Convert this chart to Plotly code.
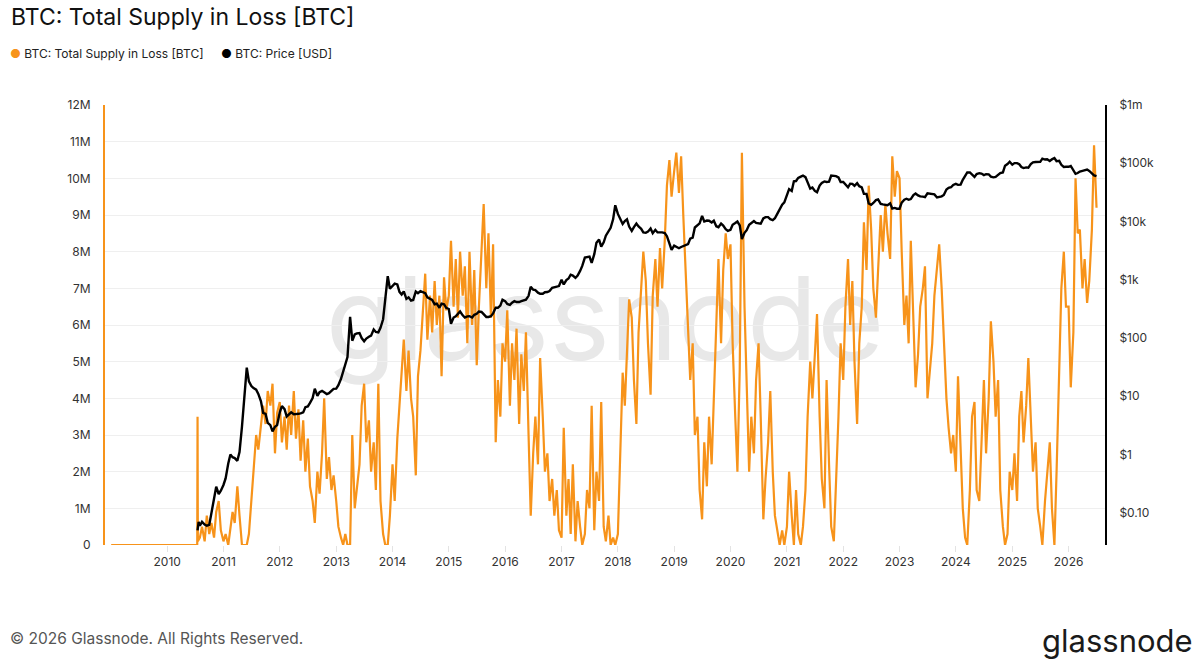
import pandas as pd
import plotly.graph_objects as go

ORANGE = "#f7931a"
FONT = "Inter"

# supply in loss, millions of BTC, semi-monthly (1st / 15th) from 2010-08-01
loss_start = "2010-08-01"
supply_loss_m = [
    0.2, 0.5, 0.1, 0.8, 0.3, 0.6, 0.2, 0.9, 1.2, 0.4,  # 2010 Aug-Dec
    0.1, 0.3, 0.0, 0.5, 0.9, 0.6, 1.6, 0.8, 0.0, 0.0, 0.0, 0.3, 1.2, 2.2, 3.0, 2.6, 3.2, 3.8, 3.3, 4.2, 3.8, 4.4, 2.5, 3.6,  # 2011
    3.9, 2.8, 3.5, 2.6, 3.8, 3.0, 4.2, 2.9, 3.7, 2.3, 3.4, 2.0, 2.9, 1.6, 1.2, 0.6, 2.0, 1.4, 2.5, 4.0, 1.8, 2.4, 1.5, 1.9,  # 2012
    1.2, 0.5, 0.2, 0.0, 0.3, 0.0, 0.0, 3.0, 1.0, 1.6, 2.2, 3.8, 4.4, 2.8, 3.4, 2.0, 2.8, 1.5, 4.4, 1.2, 0.3, 0.0, 0.0, 0.8,  # 2013
    2.2, 1.2, 2.9, 3.8, 4.6, 5.6, 4.2, 5.3, 4.0, 3.5, 1.9, 4.6, 5.3, 6.2, 7.4, 5.6, 6.8, 5.8, 7.2, 6.0, 6.8, 4.6, 7.3, 6.4,  # 2014
    6.8, 8.3, 6.5, 7.8, 6.2, 8.0, 6.8, 7.6, 5.5, 8.0, 6.0, 7.5, 4.9, 6.5, 8.0, 9.3, 7.0, 8.5, 6.2, 8.2, 2.8, 4.5, 3.5, 5.5,  # 2015
    5.0, 6.4, 3.8, 5.5, 4.5, 5.9, 3.3, 5.2, 4.2, 5.8, 3.0, 0.8, 2.5, 3.5, 2.2, 5.1, 3.5, 2.0, 2.5, 1.2, 1.8, 0.8, 1.5, 0.4,  # 2016
    0.2, 3.2, 0.8, 1.8, 0.3, 2.2, 0.1, 1.2, 0.5, 0.0, 0.3, 1.5, 1.0, 3.8, 0.4, 2.0, 1.2, 3.9, 0.5, 0.1, 0.8, 0.0, 0.2, 0.0,  # 2017
    0.3, 2.5, 4.7, 3.8, 5.5, 6.7, 6.2, 4.5, 3.3, 5.8, 7.0, 8.0, 7.2, 5.5, 4.1, 6.8, 7.8, 6.5, 8.1, 7.0, 8.3, 9.8, 10.5, 9.5,  # 2018
    10.2, 10.7, 9.6, 10.6, 9.0, 7.5, 5.8, 4.5, 5.5, 3.0, 3.5, 1.5, 0.7, 2.8, 1.6, 3.5, 2.2, 4.0, 6.5, 7.8, 5.5, 7.5, 8.5, 7.8,  # 2019
    8.2, 5.5, 3.5, 2.0, 4.8, 10.7, 6.5, 4.5, 2.0, 3.5, 2.5, 4.5, 5.5, 3.5, 0.7, 1.8, 2.8, 4.2, 2.0, 0.8, 0.3, 0.0, 0.4, 0.0,  # 2020
    0.5, 2.0, 0.8, 0.0, 1.5, 0.3, 0.0, 0.5, 1.5, 3.5, 5.0, 4.0, 5.2, 6.3, 3.5, 1.8, 1.0, 4.5, 2.2, 0.5, 0.1, 1.5, 3.5, 5.5,  # 2021
    4.5, 6.5, 7.8, 6.0, 7.2, 5.0, 3.3, 5.5, 6.5, 8.8, 7.5, 9.8, 8.6, 7.0, 6.2, 7.5, 9.0, 8.0, 9.3, 8.5, 7.8, 10.6, 9.5, 10.2,  # 2022
    10.0, 8.0, 6.0, 6.8, 5.5, 8.3, 6.2, 4.3, 5.2, 6.5, 7.0, 7.6, 4.0, 4.8, 5.5, 6.8, 7.5, 8.2, 7.0, 5.5, 4.0, 3.2, 2.5, 3.0,  # 2023
    2.0, 4.6, 2.5, 1.0, 0.2, 0.0, 1.5, 3.5, 3.9, 1.5, 1.2, 3.0, 4.5, 2.5, 4.0, 6.1, 5.0, 3.5, 4.5, 1.5, 0.5, 0.0, 0.3, 2.0,  # 2024
    1.5, 2.5, 1.2, 3.5, 4.2, 2.8, 3.8, 5.1, 3.5, 2.0, 2.8, 1.0, 0.5, 0.0, 1.2, 2.0, 2.8, 1.0, 0.0, 2.0, 4.7, 7.0, 8.0, 6.5,  # 2025
    6.5, 4.3, 5.8, 10.0, 8.5, 8.6, 7.0, 7.8, 6.6, 7.2, 8.6, 10.9, 9.2,  # 2026
]
loss_early_dates = ["2009-01-03", "2010-07-15", "2010-07-17", "2010-07-19"]
loss_early_m = [0.0, 0.0, 3.5, 0.1]

# BTC price, USD, same semi-monthly grid
price_start = "2010-08-01"
price_usd = [
    0.06, 0.07, 0.063, 0.06, 0.062, 0.10, 0.20, 0.28, 0.21, 0.24,
    0.30, 0.39, 0.70, 1.0, 0.90, 0.87, 0.78, 1.1, 3.0, 7.5, 31, 18, 15, 13.8, 13, 11, 8.2, 5.2, 5.0, 3.5, 3.2, 2.5, 3.0, 3.2,
    5.3, 6.8, 6.0, 4.5, 4.9, 5.3, 4.9, 4.9, 5.0, 5.1, 5.3, 6.5, 6.7, 7.7, 9.3, 13.5, 10.2, 11.8, 12.4, 11.7, 10.9, 11.3, 12.5, 13.4,
    13.5, 15.5, 20, 27, 34, 47, 230, 90, 115, 120, 122, 100, 88, 98, 105, 110, 140, 127, 125, 150, 210, 440, 1150, 700,
    770, 860, 830, 620, 560, 630, 470, 500, 440, 450, 630, 590, 640, 620, 590, 500, 480, 450, 380, 390, 330, 390, 380, 330,
    315, 175, 225, 235, 260, 285, 245, 225, 235, 237, 225, 250, 260, 285, 280, 260, 230, 230, 237, 265, 330, 330, 360, 455,
    430, 385, 370, 405, 430, 415, 415, 430, 450, 455, 530, 760, 675, 665, 600, 575, 575, 610, 615, 640, 730, 740, 750, 780,
    1000, 830, 990, 1050, 1220, 1180, 1080, 1180, 1420, 1730, 2400, 2450, 2500, 1950, 2750, 4300, 4900, 3700, 4400, 5700, 6700, 7800, 10900, 19000,
    13500, 11500, 9100, 10200, 10900, 8200, 6900, 8000, 9200, 8200, 7500, 6500, 6400, 6700, 7600, 6300, 7200, 6500, 6600, 6500, 6350, 5600, 4200, 3250,
    3850, 3650, 3480, 3650, 3820, 4000, 4100, 5100, 5300, 7900, 8550, 9300, 12500, 10000, 10400, 10300, 9600, 10300, 8300, 8000, 9200, 8500, 7400, 6900,
    7200, 8800, 9400, 10000, 8600, 5000, 6400, 7100, 8800, 9400, 10200, 9500, 9200, 9150, 11300, 11900, 11900, 11000, 10600, 11400, 13800, 16000, 19500, 21300,
    29400, 36000, 33500, 49000, 49500, 56000, 59000, 61500, 57800, 46500, 36700, 38300, 33500, 31800, 41500, 46000, 48800, 47800, 48200, 61500, 61300, 60100, 57200, 47600,
    47700, 43100, 38700, 44600, 44400, 41100, 45500, 40400, 38500, 29900, 29800, 20400, 19300, 20800, 23300, 23900, 20100, 19700, 19300, 19100, 20500, 16700, 17100, 16600,
    16600, 21100, 23700, 24600, 23600, 24300, 28500, 30300, 28100, 27000, 26800, 26300, 30500, 30300, 29600, 29200, 25900, 26500, 27000, 28500, 35400, 37800, 38700, 42300,
    44200, 42600, 43000, 52000, 62500, 69500, 69700, 63400, 58300, 65300, 67500, 66600, 62700, 64800, 64600, 58900, 57300, 58200, 63300, 67600, 69500, 90600, 97200, 106000,
    94400, 100500, 100600, 96100, 86000, 82600, 85000, 84000, 96500, 103500, 105000, 106800, 105700, 119800, 115800, 117400, 109200, 116800, 123000, 108200, 110000, 94000, 86500, 87000,
    87000, 90000, 78000, 66000, 68000, 72000, 74000, 76000, 78000, 74000, 68000, 62000, 60000,
]
price_early_dates = ["2010-07-17", "2010-07-24"]
price_early_usd = [0.05, 0.07]

year_ticks = [str(y) for y in range(2010, 2027)]
supply_tickvals = [i * 1e6 for i in range(13)]
supply_ticktext = ["0", "1M", "2M", "3M", "4M", "5M", "6M", "7M", "8M", "9M", "10M", "11M", "12M"]
price_tickvals = [0.1, 1, 10, 100, 1e3, 1e4, 1e5, 1e6]
price_ticktext = ["$0.10", "$1", "$10", "$100", "$1k", "$10k", "$100k", "$1m"]


loss_x = list(pd.to_datetime(loss_early_dates)) + list(
    pd.date_range(loss_start, periods=len(supply_loss_m), freq="SMS"))
loss_y = [v * 1e6 for v in loss_early_m + supply_loss_m]
price_x = list(pd.to_datetime(price_early_dates)) + list(
    pd.date_range(price_start, periods=len(price_usd), freq="SMS"))
price_y = price_early_usd + price_usd

fig = go.Figure()
fig.add_trace(go.Scatter(x=loss_x, y=loss_y, mode="lines", name="BTC: Total Supply in Loss [BTC]",
                         line=dict(color=ORANGE, width=2.2)))
fig.add_trace(go.Scatter(x=price_x, y=price_y, mode="lines", yaxis="y2", name="BTC: Price [USD]",
                         line=dict(color="#000000", width=2.4)))

# paper y for a pixel row measured from the top of the page (plot area 105..545)
def py(px):
    return 1 + (105 - px) / 440


def legend_item(x, color, label):
    return dict(text=f"<span style='color:{color}'>●</span> {label}", xref="paper", yref="paper",
                x=x, y=py(53), xanchor="left", yanchor="middle", showarrow=False,
                font=dict(family=FONT, size=12, color="#222222"))


fig.update_layout(
    width=1200, height=663,
    margin=dict(l=105, r=95, t=105, b=118, autoexpand=False),
    paper_bgcolor="white", plot_bgcolor="white",
    font=dict(family=FONT, size=12, color="#333333"),
    showlegend=False,
    xaxis=dict(type="date", range=["2008-11-24", "2026-08-25"],
               tickvals=[f"{y}-01-01" for y in year_ticks], ticktext=year_ticks,
               showgrid=False, showline=False, zeroline=False,
               ticks="outside", ticklen=6, tickcolor="#e3e3e3", tickfont=dict(size=12, color="#333333")),
    yaxis=dict(range=[0, 12e6], tickvals=supply_tickvals, ticktext=supply_ticktext,
               showgrid=True, gridcolor="#efefef", zeroline=False,
               showline=True, linecolor=ORANGE, linewidth=2, ticks="",
               ticklabelstandoff=10, tickfont=dict(size=12, color="#333333")),
    yaxis2=dict(type="log", range=[-1.553, 6], overlaying="y", side="right",
                tickvals=price_tickvals, ticktext=price_ticktext, showgrid=False,
                zeroline=False, showline=True, linecolor="#000000", linewidth=2, ticks="",
                ticklabelstandoff=10, tickfont=dict(size=12, color="#333333")),
    shapes=[dict(type="rect", xref="paper", yref="paper", x0=0.2, x1=0.8, y0=0.3, y1=0.75,
                 layer="below", line=dict(width=0), fillcolor="rgba(0,0,0,0)",
                 label=dict(text="glassnode", textposition="middle center",
                            font=dict(family=FONT, size=115, color="#e8e8e8")))],
    annotations=[
        dict(text="BTC: Total Supply in Loss [BTC]", xref="paper", yref="paper",
             x=-0.096, y=py(17), yanchor="middle", xanchor="left", showarrow=False,
             font=dict(family=FONT, size=23, color="#111111")),
        legend_item(-0.097, ORANGE, "BTC: Total Supply in Loss [BTC]"),
        legend_item(0.114, "#000000", "BTC: Price [USD]"),
        dict(text="© 2026 Glassnode. All Rights Reserved.", xref="paper", yref="paper",
             x=-0.097, y=py(638), xanchor="left", yanchor="middle", showarrow=False,
             font=dict(family=FONT, size=15.5, color="#555555")),
        dict(text="glassnode", xref="paper", yref="paper",
             x=1.09, y=py(640), xanchor="right", yanchor="middle", showarrow=False,
             font=dict(family=FONT, size=31, color="#1a1a1a")),
    ],
)

# drop the browser's default body margin so the figure sits at the page origin
fig.write_html("out.html", config={"displayModeBar": False},
               post_script="document.body.style.margin='0';")
